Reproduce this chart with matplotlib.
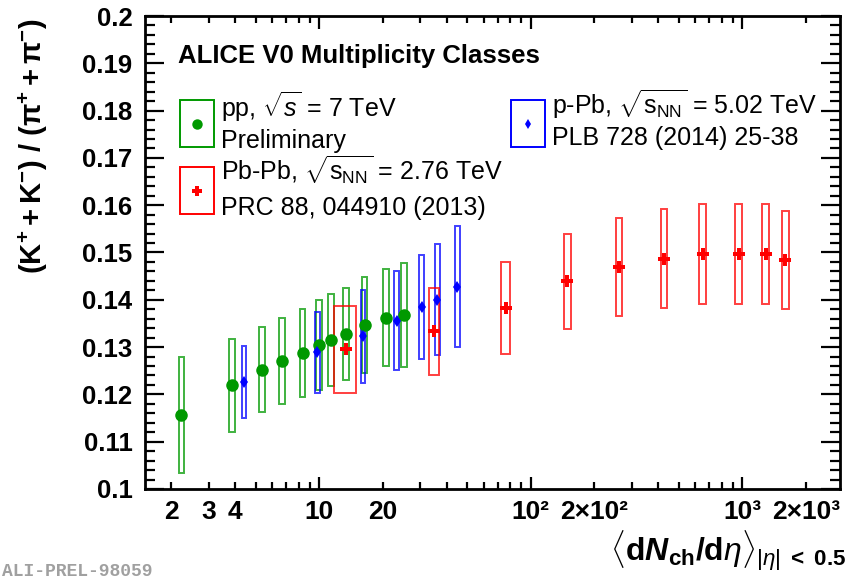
import matplotlib
matplotlib.use("Agg")
import matplotlib.pyplot as plt
from matplotlib.patches import Rectangle
from matplotlib.ticker import LogLocator, MultipleLocator, FuncFormatter
import numpy as np

plt.rcParams['font.family'] = ['Liberation Sans', 'DejaVu Sans']
plt.rcParams['mathtext.fontset'] = 'custom'
plt.rcParams['mathtext.rm'] = 'Liberation Sans'
plt.rcParams['mathtext.it'] = 'Liberation Sans:italic'
plt.rcParams['mathtext.bf'] = 'Liberation Sans:bold'
plt.rcParams['mathtext.bfit'] = 'Liberation Sans:bold:italic'

# pp 7 TeV (preliminary)
pp_x = [2.23, 3.87, 5.36, 6.66, 8.34, 10.0, 11.4, 13.4, 16.4, 20.7, 25.1]
pp_y = [0.1156, 0.1219, 0.1252, 0.1270, 0.1288, 0.1304, 0.1315, 0.1328, 0.1347, 0.1362, 0.1367]
pp_sys = [0.0123, 0.0098, 0.0090, 0.0091, 0.0093, 0.0095, 0.0097, 0.0098, 0.0101, 0.0103, 0.0110]

# p-Pb 5.02 TeV
ppb_x = [4.4, 9.8, 16.1, 23.2, 30.5, 36.2, 45.0]
ppb_y = [0.1226, 0.1289, 0.1323, 0.1356, 0.1385, 0.1400, 0.1428]
ppb_sys = [0.0076, 0.0086, 0.0098, 0.0105, 0.0110, 0.0117, 0.0127]

# Pb-Pb 2.76 TeV
pbpb_x = [13.4, 35, 76, 149, 261, 426, 649, 966, 1294, 1601]
pbpb_xerr = [1.6, 2, 4, 6, 9, 15, 23, 37, 49, 60]
pbpb_y = [0.1295, 0.1333, 0.1383, 0.1439, 0.1469, 0.1487, 0.1497, 0.1497, 0.1497, 0.1484]
pbpb_sys = [0.0091, 0.0093, 0.0097, 0.0101, 0.0103, 0.0104, 0.0105, 0.0105, 0.0105, 0.0104]

x_labels = {2: "2", 3: "3", 4: "4", 10: "10", 20: "20", 100: "10²", 200: "2×10²",
            1000: "10³", 2000: "2×10³"}

green = "#009900"
blue = "#0000ff"
red = "#ff0000"


def draw_boxes(ax, x, y, sys, color, rel=None, xerr=None):
    for i in range(len(x)):
        if xerr is not None:
            x0, x1 = x[i] - xerr[i], x[i] + xerr[i]
        else:
            x0, x1 = x[i] / rel, x[i] * rel
        ax.add_patch(Rectangle((x0, y[i] - sys[i]), x1 - x0, 2 * sys[i], fill=False,
                               ec=color, lw=1.4, alpha=0.75, zorder=2))


fig = plt.figure(figsize=(8.48, 5.79), dpi=100)
ax = fig.add_axes([145 / 848, 1 - 489 / 579, 695 / 848, 473 / 579])

ax.set_xscale("log")
ax.set_xlim(1.5, 2900)
ax.set_ylim(0.1, 0.2)

draw_boxes(ax, pp_x, pp_y, pp_sys, green, rel=1.031)
draw_boxes(ax, ppb_x, ppb_y, ppb_sys, blue, rel=1.025)
draw_boxes(ax, pbpb_x, pbpb_y, pbpb_sys, red, xerr=pbpb_xerr)

ax.plot(pp_x, pp_y, "o", color=green, ms=8, zorder=4)
ax.plot(ppb_x, ppb_y, "d", color=blue, ms=6, mew=0, zorder=4)
ax.plot(pbpb_x, pbpb_y, "P", color=red, ms=8, mew=0, zorder=4)

# axes styling
for s in ax.spines.values():
    s.set_linewidth(2)
ax.yaxis.set_major_locator(MultipleLocator(0.01))
ax.yaxis.set_minor_locator(MultipleLocator(0.002))
ax.yaxis.set_major_formatter(FuncFormatter(lambda v, p: ("%.2f" % v).rstrip("0")))
ax.xaxis.set_major_locator(LogLocator(base=10, numticks=10))
ax.xaxis.set_minor_locator(LogLocator(base=10, subs=np.arange(2, 10), numticks=10))


def xfmt(v, p):
    k = int(round(v))
    return x_labels.get(k, "")


ax.xaxis.set_major_formatter(FuncFormatter(xfmt))
ax.xaxis.set_minor_formatter(FuncFormatter(xfmt))

ax.tick_params(which="both", direction="in", top=True, right=True, width=1.6)
ax.tick_params(axis="y", which="major", length=14, labelsize=18.5, pad=9)
ax.tick_params(axis="y", which="minor", length=7)
ax.tick_params(axis="x", which="major", length=9, labelsize=19, pad=8)
ax.tick_params(axis="x", which="minor", length=5, labelsize=19, pad=8)
for lbl in ax.get_xticklabels(which="both") + ax.get_yticklabels():
    lbl.set_fontweight("bold")

# titles / labels
ax.text(0.047, 0.901, "ALICE V0 Multiplicity Classes", transform=ax.transAxes,
        fontsize=18.5, fontweight="bold", va="baseline")

fig.text(33 / 848, 1 - 146 / 579, r"$\mathbf{(K^{+} + K^{-})\ /\ (\pi^{+} + \pi^{-})}$",
         rotation=90, ha="center", va="center", fontsize=21)
fig.text(0.998, 1 - 561 / 579,
         r"$\langle\mathbf{d}\mathbfit{N}_{\mathbf{ch}}\mathbf{/d}\eta\rangle_{|\eta|\ \mathbf{<\ 0.5}}$",
         ha="right", va="baseline", fontsize=23)
fig.text(0.002, 1 - 571 / 579, "ALI-PREL-98059", color="#a0a0a0", fontsize=13,
         family="Liberation Mono", fontweight="bold", va="center", ha="left")

# legend
legend_items = [
    (0.050, 0.723, green, "o", 7.5, [r"pp, $\sqrt{s}$ = 7 TeV", "Preliminary"], 0.786, 0.721),
    (0.050, 0.581, red, "P", 7, [r"Pb-Pb, $\sqrt{\mathrm{s}_{\rm NN}}$ = 2.76 TeV", "PRC 88, 044910 (2013)"], 0.653, 0.579),
    (0.527, 0.723, blue, "d", 5.5, [r"p-Pb, $\sqrt{\mathrm{s}_{\rm NN}}$ = 5.02 TeV", "PLB 728 (2014) 25-38"], 0.793, 0.727),
]
for bx, by, col, mk, ms, texts, t1, t2 in legend_items:
    ax.add_patch(Rectangle((bx, by), 0.049, 0.099, transform=ax.transAxes, fill=False,
                           ec=col, lw=1.4, clip_on=False, zorder=5))
    ax.plot([bx + 0.0245], [by + 0.0495], mk, color=col, ms=ms, mew=0,
            transform=ax.transAxes, zorder=6)
    ax.text(bx + 0.059, t1, texts[0], transform=ax.transAxes, fontsize=18, va="baseline")
    ax.text(bx + 0.059, t2, texts[1], transform=ax.transAxes, fontsize=18, va="baseline")

fig.savefig("out.png", dpi=100)
